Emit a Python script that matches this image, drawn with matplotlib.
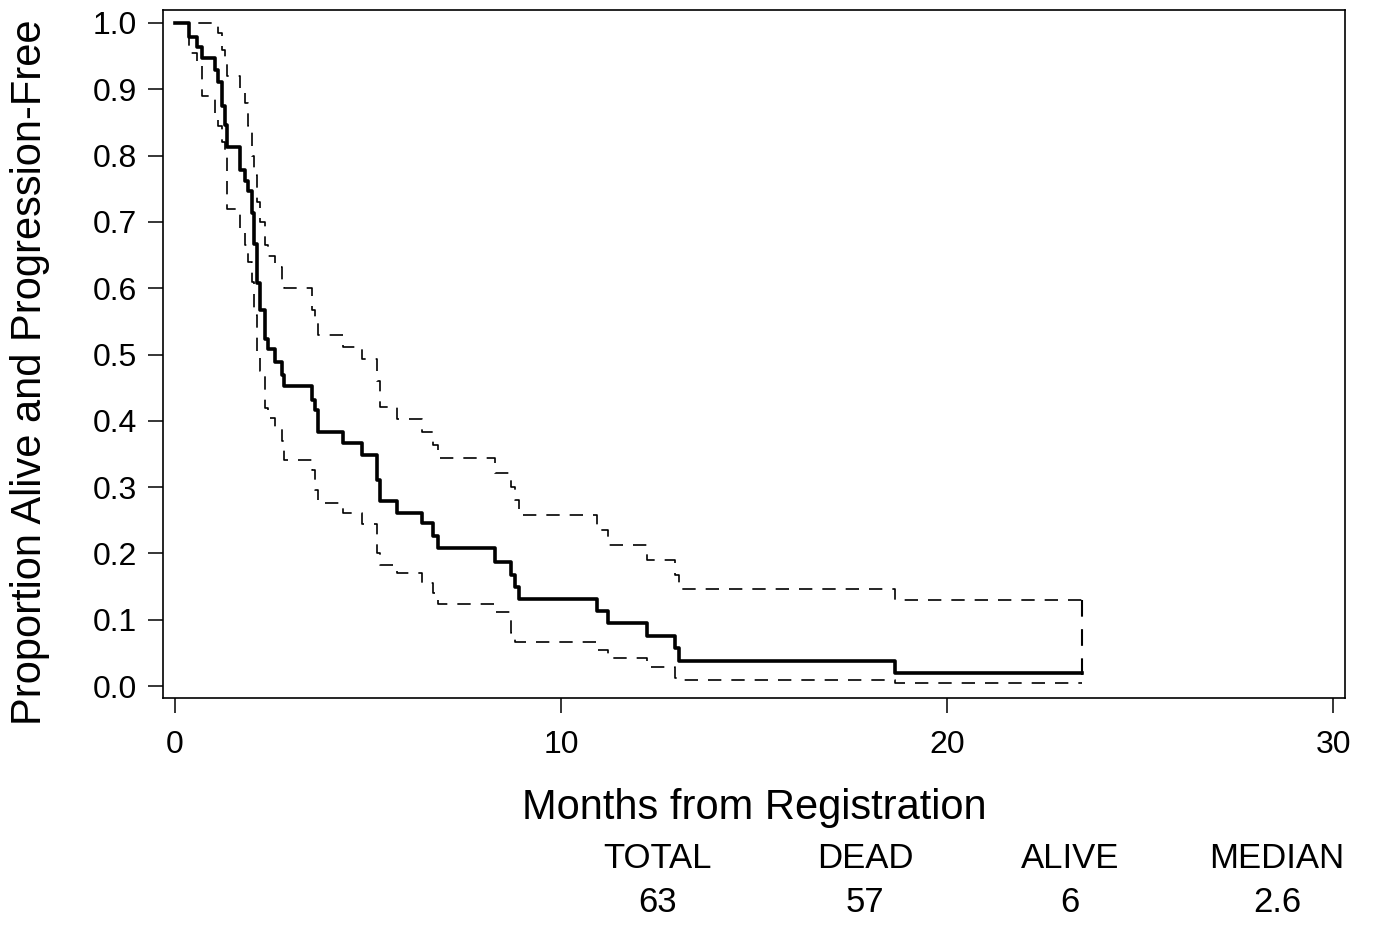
import matplotlib
matplotlib.use("Agg")
import matplotlib.pyplot as plt

plt.rcParams['font.family'] = ['Liberation Sans', 'DejaVu Sans']

# Kaplan-Meier estimate (months, proportion)
km_time = [0, 0.36, 0.57, 0.70, 1.04, 1.11, 1.22, 1.30, 1.35, 1.68, 1.81, 1.89, 1.99,
           2.05, 2.12, 2.20, 2.33, 2.41, 2.59, 2.77, 2.82, 3.55, 3.63, 3.70, 4.35,
           4.84, 5.23, 5.31, 5.75, 6.40, 6.68, 6.81, 8.29, 8.70, 8.81, 8.91, 10.93,
           11.22, 12.23, 12.95, 13.06, 18.65, 23.5]
km_surv = [1.0, 0.979, 0.964, 0.947, 0.929, 0.911, 0.875, 0.846, 0.813, 0.778, 0.762,
           0.746, 0.713, 0.667, 0.608, 0.567, 0.524, 0.508, 0.489, 0.469, 0.452, 0.431,
           0.416, 0.383, 0.367, 0.349, 0.311, 0.279, 0.261, 0.246, 0.227, 0.208, 0.187,
           0.168, 0.149, 0.132, 0.113, 0.095, 0.075, 0.057, 0.038, 0.019, 0.019]
ci_upper = [1.0, 1.0, 1.0, 1.0, 1.0, 0.985, 0.96, 0.945, 0.92, 0.90, 0.88, 0.845, 0.80,
            0.77, 0.73, 0.70, 0.665, 0.648, 0.632, 0.61, 0.60, 0.567, 0.55, 0.530,
            0.511, 0.494, 0.46, 0.421, 0.403, 0.383, 0.364, 0.344, 0.321, 0.30, 0.28,
            0.258, 0.236, 0.213, 0.19, 0.167, 0.147, 0.130, 0.130]
ci_lower = [1.0, 0.955, 0.935, 0.89, 0.865, 0.845, 0.82, 0.80, 0.72, 0.69, 0.665, 0.64,
            0.61, 0.56, 0.505, 0.475, 0.42, 0.405, 0.39, 0.37, 0.341, 0.326, 0.295,
            0.276, 0.261, 0.244, 0.20, 0.183, 0.170, 0.155, 0.140, 0.124, 0.112, 0.08,
            0.066, 0.066, 0.054, 0.042, 0.029, 0.012, 0.009, 0.004, 0.004]

table_headers = ['TOTAL', 'DEAD', 'ALIVE', 'MEDIAN']
table_values = ['63', '57', '6', '2.6']

fig = plt.figure(figsize=(13.76, 9.25), dpi=100)
ax = fig.add_axes([0.1185, 0.2454, 0.859, 0.7438])

dash = (0, (8, 6))
ax.step(km_time, ci_upper, where='post', color='black', lw=1.2, linestyle=dash)
ax.step(km_time, ci_lower, where='post', color='black', lw=1.2, linestyle=dash)
# upper band drops to zero at the last follow-up
ax.plot([km_time[-1], km_time[-1]], [ci_upper[-1], 0.0], color='black', lw=1.5, linestyle=dash)
ax.step(km_time, km_surv, where='post', color='black', lw=2.6)

ax.set_xlim(-0.31, 30.31)
ax.set_ylim(-0.018, 1.0196)
ax.set_xticks([0, 10, 20, 30])
ax.set_yticks([i / 10 for i in range(11)])
ax.set_yticklabels([f'{i / 10:.1f}' for i in range(11)])
ax.tick_params(direction='out', length=11, width=1.1, labelsize=23, pad=8)
ax.tick_params(axis='x', pad=12)
for sp in ax.spines.values():
    sp.set_linewidth(1.2)

ax.set_xlabel('Months from Registration', fontsize=30, labelpad=20)
fig.text(0.0218, 0.598, 'Proportion Alive and Progression-Free', rotation=90,
         ha='center', va='center', fontsize=30)

col_x = [658, 865, 1070, 1277]
for cx, head, val in zip(col_x, table_headers, table_values):
    fig.text(cx / 1376, 1 - 858 / 925, head, ha='center', va='center', fontsize=25)
    fig.text(cx / 1376, 1 - 903 / 925, val, ha='center', va='center', fontsize=25)

fig.savefig('out.png', dpi=100)
